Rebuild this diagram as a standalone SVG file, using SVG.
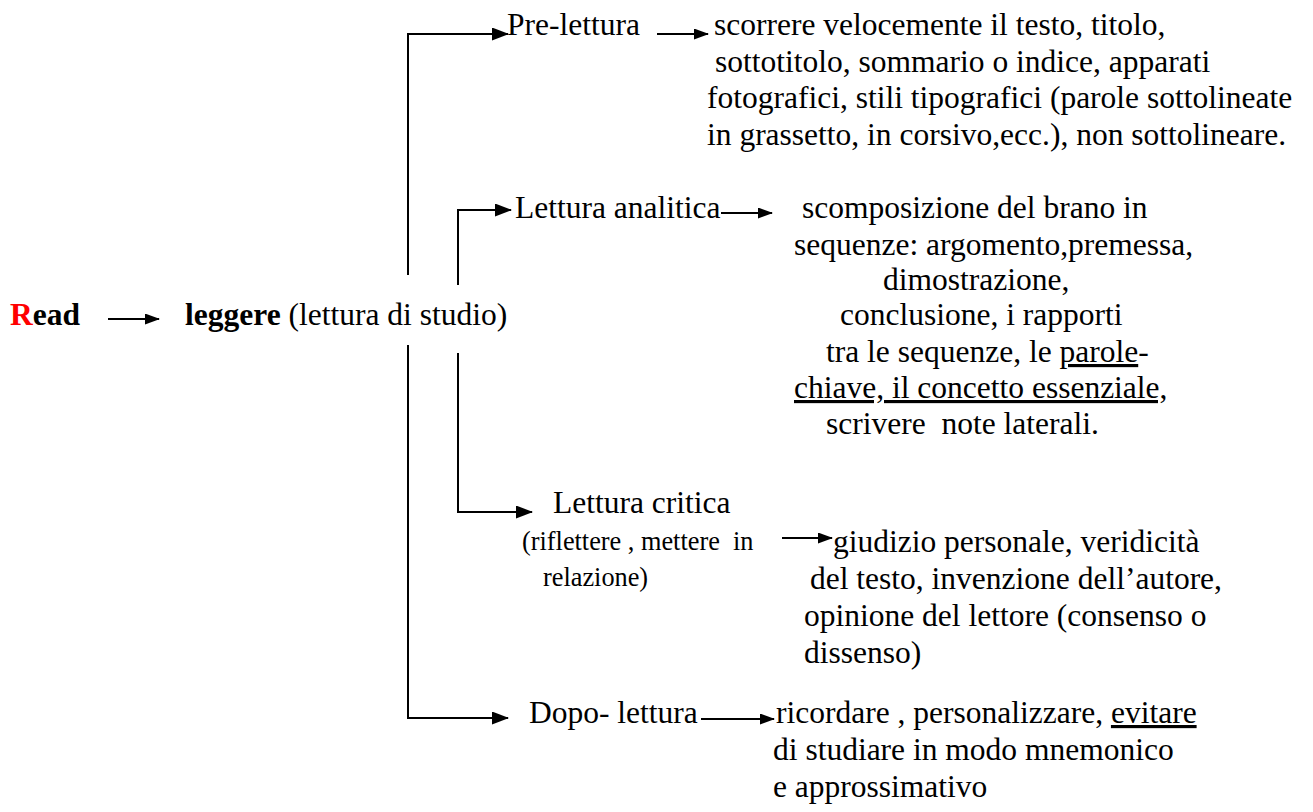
<svg xmlns="http://www.w3.org/2000/svg" width="1313" height="812" viewBox="0 0 1313 812">
<style>
text{font-family:"Liberation Serif","Times New Roman",serif;font-size:31.5px;fill:#000}
.b{font-weight:bold}
.sm{font-size:26.3px}
.u{text-decoration:underline}
.c{fill:none;stroke:#000;stroke-width:2}
</style>
<defs>
<marker id="ah" viewBox="0 0 17 13" refX="16" refY="6.5" markerWidth="17" markerHeight="13" markerUnits="userSpaceOnUse" orient="auto"><path d="M0,0 L17,6.5 L0,13 z" fill="#000"/></marker>
<marker id="as" viewBox="0 0 15 11" refX="14" refY="5.5" markerWidth="15" markerHeight="11" markerUnits="userSpaceOnUse" orient="auto"><path d="M0,0 L15,5.5 L0,11 z" fill="#000"/></marker>
</defs>
<rect width="1313" height="812" fill="#fff"/>
<g id="connectors">
<path class="c" d="M408,275 V34 H508" marker-end="url(#ah)"/>
<path class="c" d="M458,285 V210 H511" marker-end="url(#ah)"/>
<path class="c" d="M458,353 V512 H532" marker-end="url(#ah)"/>
<path class="c" d="M408,345 V718 H508" marker-end="url(#ah)"/>
<path class="c" d="M108,319 H159" marker-end="url(#as)"/>
<path class="c" d="M657,34 H708" marker-end="url(#as)"/>
<path class="c" d="M721,213 H772" marker-end="url(#as)"/>
<path class="c" d="M782,538 H832" marker-end="url(#as)"/>
<path class="c" d="M701,719 H774" marker-end="url(#as)"/>
</g>
<g id="read"><text x="10" y="325" class="b"><tspan fill="#ff0000">R</tspan>ead</text></g>
<g id="leggere"><text x="185" y="325"><tspan class="b">leggere</tspan> (lettura di studio)</text></g>
<g id="pre-lettura"><text x="507" y="35">Pre-lettura</text></g>
<g id="pre-lettura-desc">
<text x="714" y="35">scorrere velocemente il testo, titolo,</text>
<text x="715" y="72">sottotitolo, sommario o indice, apparati</text>
<text x="707" y="108">fotografici, stili tipografici (parole sottolineate</text>
<text x="707" y="145">in grassetto, in corsivo,ecc.), non sottolineare.</text>
</g>
<g id="lettura-analitica"><text x="515" y="218">Lettura analitica</text></g>
<g id="analitica-desc">
<text x="802" y="218">scomposizione del brano in</text>
<text x="794" y="255">sequenze: argomento,premessa,</text>
<text x="883" y="290">dimostrazione,</text>
<text x="840" y="325">conclusione, i rapporti</text>
<text x="826" y="362">tra le sequenze, le <tspan class="u">parole</tspan>-</text>
<text x="794" y="398" class="u">chiave, il concetto essenziale,</text>
<text x="826" y="434" xml:space="preserve">scrivere  note laterali.</text>
</g>
<g id="lettura-critica">
<text x="553" y="513">Lettura critica</text>
<text x="522" y="550" class="sm" xml:space="preserve">(riflettere , mettere  in</text>
<text x="543" y="586" class="sm">relazione)</text>
</g>
<g id="critica-desc">
<text x="833" y="552">giudizio personale, veridicità</text>
<text x="810" y="589">del testo, invenzione dell’autore,</text>
<text x="804" y="626">opinione del lettore (consenso o</text>
<text x="804" y="663">dissenso)</text>
</g>
<g id="dopo-lettura"><text x="529" y="723">Dopo- lettura</text></g>
<g id="dopo-desc">
<text x="776" y="723">ricordare , personalizzare, <tspan class="u">evitare</tspan></text>
<text x="773" y="760">di studiare in modo mnemonico</text>
<text x="773" y="797">e approssimativo</text>
</g>
</svg>
